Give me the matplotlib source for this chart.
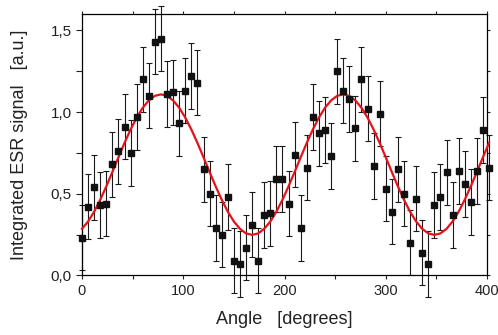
import matplotlib
matplotlib.use("Agg")
import matplotlib.pyplot as plt
import matplotlib.transforms as mtransforms
from matplotlib.ticker import MultipleLocator, FuncFormatter

plt.rcParams['font.family'] = ['Liberation Sans', 'DejaVu Sans']

# angle of each measurement [degrees]
angle = [0, 6, 12, 18, 24, 30, 36, 42, 48, 54, 60, 66, 72, 78, 84, 90, 96, 102,
         108, 114, 120, 126, 132, 138, 144, 150, 156, 162, 168, 174, 180, 186,
         192, 198, 204, 210, 216, 222, 228, 234, 240, 246, 252, 258, 264, 270,
         276, 282, 288, 294, 300, 306, 312, 318, 324, 330, 336, 342, 348, 354,
         360, 366, 372, 378, 384, 390, 396, 402]

# integrated ESR signal [a.u.]
signal = [0.23, 0.42, 0.54, 0.43, 0.44, 0.68, 0.76, 0.91, 0.75, 0.97, 1.20, 1.10,
          1.43, 1.45, 1.11, 1.12, 0.93, 1.13, 1.22, 1.18, 0.65, 0.50, 0.29, 0.25,
          0.48, 0.09, 0.07, 0.17, 0.31, 0.09, 0.37, 0.38, 0.59, 0.59, 0.44, 0.74,
          0.29, 0.66, 0.97, 0.87, 0.89, 0.73, 1.25, 1.13, 1.08, 0.90, 1.20, 1.02,
          0.67, 0.99, 0.53, 0.39, 0.65, 0.50, 0.20, 0.47, 0.14, 0.07, 0.43, 0.48,
          0.63, 0.37, 0.64, 0.56, 0.45, 0.64, 0.89, 0.66]

signal_err = 0.20

# fitted curve, read at the same angles
fit = [0.285, 0.330, 0.390, 0.463, 0.545, 0.633, 0.723, 0.811, 0.893, 0.966,
       1.026, 1.071, 1.099, 1.108, 1.099, 1.071, 1.026, 0.966, 0.893, 0.811,
       0.723, 0.633, 0.545, 0.463, 0.390, 0.330, 0.285, 0.257, 0.248, 0.257,
       0.285, 0.330, 0.390, 0.463, 0.545, 0.633, 0.723, 0.811, 0.893, 0.966,
       1.026, 1.071, 1.099, 1.108, 1.099, 1.071, 1.026, 0.966, 0.893, 0.811,
       0.723, 0.633, 0.545, 0.463, 0.390, 0.330, 0.285, 0.257, 0.248, 0.257,
       0.285, 0.330, 0.390, 0.463, 0.545, 0.633, 0.723, 0.811]

fig = plt.figure(figsize=(4.98, 3.35), dpi=100)
ax = fig.add_axes([82/498, 1 - 275.4/335, 405/498, 261.4/335])

eb = ax.errorbar(angle, signal, yerr=signal_err, fmt='none', ecolor='#1a1a1a',
                 elinewidth=0.8, capsize=2.5, capthick=0.8, zorder=2)
for art in eb.lines[1] + eb.lines[2]:
    art.set_clip_on(False)
ax.plot(angle, fit, color='#e3121b', lw=1.6, zorder=3, clip_on=False)
ax.plot(angle, signal, 's', color='#111111', ms=4.6, zorder=4, clip_on=False)

ax.set_xlim(0, 400)
ax.set_ylim(0, 1.6)
ax.xaxis.set_major_locator(MultipleLocator(100))
ax.xaxis.set_minor_locator(MultipleLocator(50))
ax.yaxis.set_major_locator(MultipleLocator(0.5))
ax.yaxis.set_minor_locator(MultipleLocator(0.25))
ax.yaxis.set_major_formatter(FuncFormatter(lambda v, p: f"{v:.1f}".replace('.', ',')))

ax.tick_params(axis='x', which='both', direction='out', length=3, width=0.8,
               labelsize=10.5, colors='#222222', pad=3)
ax.tick_params(axis='y', which='both', direction='out', length=4.5, width=0.8,
               labelsize=11, colors='#222222', pad=3)
ax.tick_params(which='both', top=True, right=True)
for t in ax.xaxis.get_ticklines(minor=True)[1::2] + ax.xaxis.get_ticklines()[1::2]:
    t.set_markersize(2)
for t in ax.yaxis.get_ticklines(minor=True)[1::2] + ax.yaxis.get_ticklines()[1::2]:
    t.set_markersize(2)
for s in ax.spines.values():
    s.set_linewidth(0.9)

# keep the last x label inside the figure
fig.canvas.draw()
last = ax.get_xticklabels()[-1]
last.set_transform(last.get_transform() +
                   mtransforms.ScaledTranslation(-2.5/72, 0, fig.dpi_scale_trans))

ax.set_xlabel("Angle   [degrees]", fontsize=13, color='#222222')
ax.set_ylabel("Integrated ESR signal   [a.u.]", fontsize=13, color='#222222')
ax.xaxis.set_label_coords(0.5, -0.135)
ax.yaxis.set_label_coords(-0.133, 0.5)

fig.savefig("out.png", dpi=100)
